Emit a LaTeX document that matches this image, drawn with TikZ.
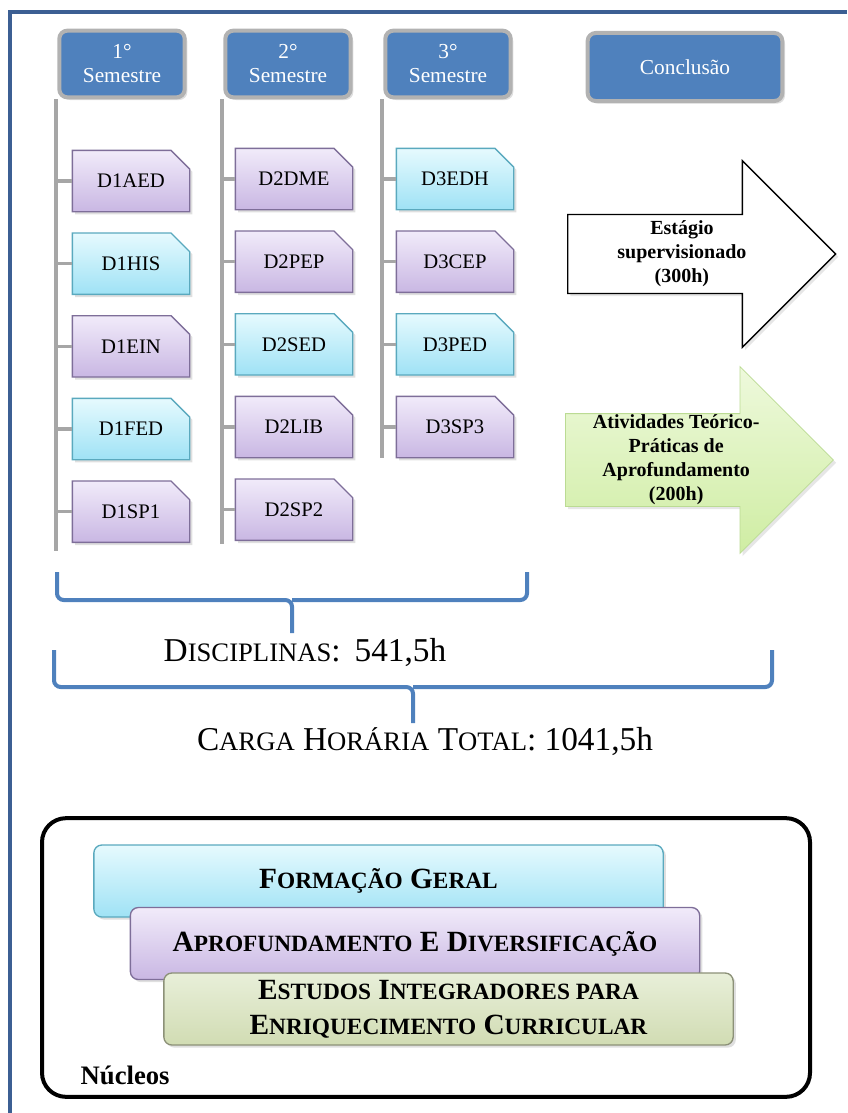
\documentclass[tikz,border=0pt]{standalone}
\usepackage{fontspec}
\setmainfont{Liberation Serif}
\usetikzlibrary{positioning,shapes.misc,shapes.arrows,shadows}

\definecolor{hdblue}{HTML}{4F81BD}
\definecolor{frameblue}{HTML}{3C5F93}
\definecolor{lilatop}{HTML}{F1EBFA}
\definecolor{lilabot}{HTML}{C9B7E3}
\definecolor{lilaedge}{HTML}{7E6E99}
\definecolor{ciantop}{HTML}{E6FAFE}
\definecolor{cianbot}{HTML}{9FE2F5}
\definecolor{cianedge}{HTML}{5AA9BE}
\definecolor{verdetop}{HTML}{EEF9DC}
\definecolor{verdebot}{HTML}{CFEDA3}
\definecolor{verdeedge}{HTML}{BBDB93}
\definecolor{olivatop}{HTML}{E8EFD9}
\definecolor{olivabot}{HTML}{D1DCB3}
\definecolor{olivaedge}{HTML}{8C9178}
\definecolor{linegray}{HTML}{A6A6A6}

% fake small caps
\newcommand\scD[1]{{\fontsize{20}{24}\selectfont #1}}
\newcommand\scN[1]{{\fontsize{17.5}{21}\selectfont #1}}

\begin{document}
\begin{tikzpicture}[x=0.75pt, y=-0.75pt, node distance=15pt,
  sem/.style={draw=gray!60, line width=3pt, fill=hdblue, rounded corners=6pt, text=white,
    align=center, minimum width=94pt, minimum height=50pt, font=\fontsize{16}{18}\selectfont,
    drop shadow={opacity=0.25, shadow xshift=2pt, shadow yshift=-2pt}},
  disc/.style={chamfered rectangle, chamfered rectangle corners=north east,
    chamfered rectangle xsep=7pt, chamfered rectangle ysep=7pt, line width=1pt,
    minimum width=88pt, minimum height=46pt, font=\fontsize{15.5}{17}\selectfont,
    drop shadow={opacity=0.25, shadow xshift=2pt, shadow yshift=-2pt}},
  lila/.style={disc, draw=lilaedge, top color=lilatop, bottom color=lilabot},
  cian/.style={disc, draw=cianedge, top color=ciantop, bottom color=cianbot},
  tick/.style={draw=linegray, line width=2.5pt},
  brace/.style={draw=hdblue, line width=3pt, rounded corners=5pt},
  bigarr/.style={single arrow, single arrow head extend=34.5pt, single arrow tip angle=90,
    minimum height=201pt, minimum width=140pt, inner sep=0pt, align=center,
    font=\bfseries\fontsize{15}{18}\selectfont, anchor=tail,
    drop shadow={opacity=0.2, shadow xshift=2pt, shadow yshift=-2pt}},
  nucbox/.style={rounded corners=6pt, line width=1pt, minimum width=427pt, minimum height=54pt,
    align=center, font=\bfseries\fontsize{22}{26}\selectfont,
    drop shadow={opacity=0.25, shadow xshift=2pt, shadow yshift=-2pt}}]
\useasboundingbox (0,0) rectangle (847,1113);
\draw[frameblue, line width=3pt] (10,1113) -- (10,12) -- (847,12);

% semester headers
\node[sem] (s1) at (122,64) {1°\\Semestre};
\node[sem] (s2) at (288,64) {2°\\Semestre};
\node[sem] (s3) at (448,64) {3°\\Semestre};
\node[sem, minimum width=146pt, minimum height=51pt] (concl) at (685,67) {Conclusão};

% disciplines
\node[lila] (d1aed) at (131,181) {D1AED};
\node[cian, below=of d1aed] (d1his) {D1HIS};
\node[lila, below=of d1his] (d1ein) {D1EIN};
\node[cian, below=of d1ein] (d1fed) {D1FED};
\node[lila, below=of d1fed] (d1sp1) {D1SP1};
\node[lila] (d2dme) at (294,179) {D2DME};
\node[lila, below=of d2dme] (d2pep) {D2PEP};
\node[cian, below=of d2pep] (d2sed) {D2SED};
\node[lila, below=of d2sed] (d2lib) {D2LIB};
\node[lila, below=of d2lib] (d2sp2) {D2SP2};
\node[cian] (d3edh) at (455,179) {D3EDH};
\node[lila, below=of d3edh] (d3cep) {D3CEP};
\node[cian, below=of d3cep] (d3ped) {D3PED};
\node[lila, below=of d3ped] (d3sp3) {D3SP3};

% timelines
\draw[tick] ([xshift=-1pt]s1.south west) -- ([xshift=-1pt,yshift=-6pt]s1.south west |- d1sp1.south);
\draw[tick] ([xshift=-1pt]s2.south west) -- ([xshift=-1pt,yshift=-2pt]s2.south west |- d2sp2.south);
\draw[tick] ([xshift=-1pt]s3.south west) -- ([xshift=-1pt]s3.south west |- d3sp3.south);
\foreach \d in {d1aed,d1his,d1ein,d1fed,d1sp1} \draw[tick] ([xshift=-1pt]s1.south west |- \d.west) -- (\d.west);
\foreach \d in {d2dme,d2pep,d2sed,d2lib,d2sp2} \draw[tick] ([xshift=-1pt]s2.south west |- \d.west) -- (\d.west);
\foreach \d in {d3edh,d3cep,d3ped,d3sp3} \draw[tick] ([xshift=-1pt]s3.south west |- \d.west) -- (\d.west);

% conclusion arrows
\node[bigarr, draw=black, line width=1pt, fill=white] (estagio) at (567,254) {Estágio\\supervisionado\\(300h)};
\node[bigarr, draw=verdeedge, line width=0.6pt, top color=verdetop, bottom color=verdebot] (ativ) at (565,460) {Atividades Teórico-\\Práticas de\\Aprofundamento\\(200h)};

% braces
\coordinate (b1l) at (57,572); \coordinate (b1r) at (527,572);
\coordinate (b1m) at (292,600); \coordinate (b1t) at (292,633);
\draw[brace] (b1l) |- (b1m) -- (b1t); \draw[brace] (b1r) |- (b1m);
\node[font=\fontsize{25}{30}\selectfont] (disc) at (305,652) {D\scD{ISCIPLINAS}:\, 541,5h};
\coordinate (b2l) at (54,650); \coordinate (b2r) at (772,650);
\coordinate (b2m) at (413,687); \coordinate (b2t) at (413,723);
\draw[brace] (b2l) |- (b2m) -- (b2t); \draw[brace] (b2r) |- (b2m);
\node[font=\fontsize{25}{30}\selectfont] (total) at (425,741) {C\scD{ARGA} H\scD{ORÁRIA} T\scD{OTAL}: 1041,5h};

% nucleos
\node[draw, line width=3pt, rounded corners=18pt, minimum width=576pt, minimum height=209pt] (nuc) at (426,957.5) {};
\node[nucbox, draw=cianedge, top color=ciantop, bottom color=cianbot] (fg) at (378.5,881) {F\scN{ORMAÇÃO} G\scN{ERAL}};
\node[nucbox, draw=lilaedge, top color=lilatop, bottom color=lilabot] (ad) at (415,943.5) {A\scN{PROFUNDAMENTO} E D\scN{IVERSIFICAÇÃO}};
\node[nucbox, draw=olivaedge, top color=olivatop, bottom color=olivabot] (ei) at (448.5,1009) {E\scN{STUDOS} I\scN{NTEGRADORES PARA}\\E\scN{NRIQUECIMENTO} C\scN{URRICULAR}};
\node[anchor=west, font=\bfseries\fontsize{20}{24}\selectfont] (nuclab) at (76,1075) {Núcleos};
\end{tikzpicture}
\end{document}
